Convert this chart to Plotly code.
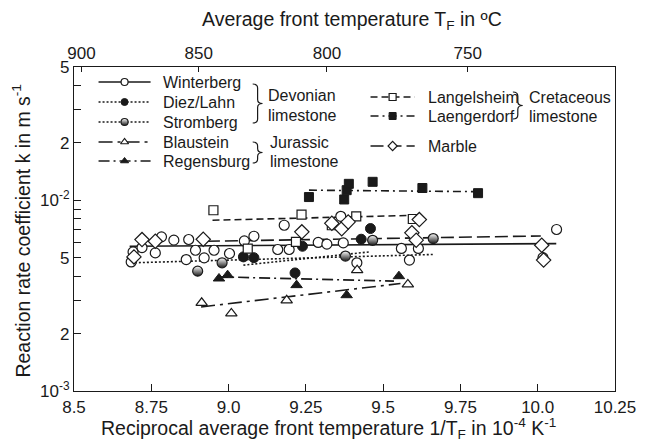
import plotly.graph_objects as go

# ---------------- data (x = 1/T_F in 1e-4 K^-1, k in m/s) ----------------
winterberg_x = [8.685, 8.691, 8.720, 8.763, 8.783, 8.823, 8.871, 8.863, 8.893, 8.921, 8.953, 9.003, 9.051,
                9.082, 9.159, 9.180, 9.196, 9.290, 9.318, 9.363, 9.371, 9.415, 9.559, 9.585, 9.614, 10.017, 10.061]
winterberg_k = [0.00475, 0.00536, 0.00565, 0.00530, 0.00643, 0.00618, 0.00623, 0.00489, 0.00547, 0.00499,
                0.00547, 0.00526, 0.00612, 0.00648, 0.00552, 0.00740, 0.00552, 0.00601, 0.00589, 0.00824,
                0.00598, 0.00470, 0.00559, 0.00486, 0.00559, 0.00500, 0.00703]
diez_x = [9.048, 9.082, 9.215, 9.239, 9.429, 9.459]
diez_k = [0.00505, 0.00500, 0.00416, 0.00574, 0.00625, 0.00711]
strom_x = [8.900, 8.979, 9.378, 9.466, 9.662]
strom_k = [0.00425, 0.00470, 0.00510, 0.00617, 0.00630]
blau_x = [8.913, 9.009, 9.188, 9.416, 9.580]
blau_k = [0.00290, 0.00255, 0.00299, 0.00430, 0.00362]
regen_x = [8.969, 8.997, 9.220, 9.382, 9.551]
regen_k = [0.00389, 0.00405, 0.00359, 0.00318, 0.00400]
lang_x = [8.951, 9.062, 9.218, 9.236, 9.334, 9.413, 9.596]
lang_k = [0.00887, 0.00558, 0.00605, 0.00841, 0.00740, 0.00824, 0.00798]
laeng_x = [9.260, 9.374, 9.382, 9.389, 9.466, 9.627, 9.807]
laeng_k = [0.0104, 0.0101, 0.0113, 0.0122, 0.0125, 0.0116, 0.0109]
marble_x = [8.694, 8.720, 8.763, 8.918, 9.237, 9.334, 9.366, 9.387, 9.593, 9.607, 9.617, 10.013, 10.019]
marble_k = [0.00505, 0.00622, 0.00610, 0.00625, 0.00683, 0.00757, 0.00710, 0.00770, 0.00675, 0.00618,
            0.00792, 0.00581, 0.00486]

# fitted Arrhenius lines (end points)
fit_winter_x, fit_winter_k = [8.68, 10.06], [0.00574, 0.00593]
fit_diez_x, fit_diez_k = [9.048, 9.459], [0.00457, 0.00537]
fit_strom_x, fit_strom_k = [8.684, 9.662], [0.00470, 0.00520]
fit_blau_x, fit_blau_k = [8.911, 9.556], [0.00276, 0.00366]
fit_regen_x, fit_regen_k = [8.963, 9.535], [0.00397, 0.00377]
fit_lang_x, fit_lang_k = [8.948, 9.603], [0.00786, 0.00834]
fit_laeng_x, fit_laeng_k = [9.26, 9.80], [0.0113, 0.0111]
fit_marble_x, fit_marble_k = [8.93, 10.01], [0.0061, 0.0065]

# axis ticks
x_ticks = [8.5, 8.75, 9.0, 9.25, 9.5, 9.75, 10.0, 10.25]
x_ticktext = ["8.5", "8.75", "9.0", "9.25", "9.5", "9.75", "10.0", "10.25"]
top_temps_C = [900, 850, 800, 750]
y_ticks = [0.001, 0.002, 0.005, 0.01, 0.02, 0.05]
y_ticktext = ["10<sup>-3</sup>", "2", "5", "10<sup>-2</sup>", "2", "5"]
y_minor = [0.003, 0.004, 0.006, 0.007, 0.008, 0.009, 0.03, 0.04]

INK = "#1a1a1a"
FONT = "Liberation Sans, Arial, sans-serif"

# style for each series
series = [
    dict(name="Winterberg", x=winterberg_x, k=winterberg_k, fx=fit_winter_x, fk=fit_winter_k,
         sym="circle-open", fill=False, size=10, dash="solid"),
    dict(name="Diez/Lahn", x=diez_x, k=diez_k, fx=fit_diez_x, fk=fit_diez_k,
         sym="circle", fill=True, size=10, dash="2px,2px"),
    dict(name="Stromberg", x=strom_x, k=strom_k, fx=fit_strom_x, fk=fit_strom_k,
         sym="circle", fill="half", size=10, dash="2px,2px"),
    dict(name="Blaustein", x=blau_x, k=blau_k, fx=fit_blau_x, fk=fit_blau_k,
         sym="triangle-up", fill=False, size=10, dash="14px,5px,3px,5px"),
    dict(name="Regensburg", x=regen_x, k=regen_k, fx=fit_regen_x, fk=fit_regen_k,
         sym="triangle-up", fill=True, size=10, dash="11px,4px,2px,4px"),
    dict(name="Langelsheim", x=lang_x, k=lang_k, fx=fit_lang_x, fk=fit_lang_k,
         sym="square", fill=False, size=9, dash="7px,4px"),
    dict(name="Laengerdorf", x=laeng_x, k=laeng_k, fx=fit_laeng_x, fk=fit_laeng_k,
         sym="square", fill=True, size=9, dash="8px,4px,2px,4px"),
    dict(name="Marble", x=marble_x, k=marble_k, fx=fit_marble_x, fk=fit_marble_k,
         sym="diamond", fill=False, size=11, dash="13px,5px"),
]


def marker_style(s, size):
    base = s["sym"].replace("-open", "")
    if s["fill"] is True:
        return dict(symbol=base, size=size, color=INK, line=dict(color=INK, width=1))
    if s["fill"] == "half":
        return dict(symbol=base, size=size, color="white",
                    gradient=dict(type="vertical", color=INK), line=dict(color=INK, width=1.2))
    return dict(symbol=base, size=size, color="white", line=dict(color=INK, width=1.2))


fig = go.Figure()

# fit lines first
for s in series:
    fig.add_trace(go.Scatter(x=s["fx"], y=s["fk"], mode="lines",
                             line=dict(color=INK, width=1.6, dash=s["dash"]),
                             showlegend=False, hoverinfo="skip"))
# data markers
for s in series:
    fig.add_trace(go.Scatter(x=s["x"], y=s["k"], mode="markers", name=s["name"],
                             marker=marker_style(s, s["size"]), showlegend=False))

# invisible trace to activate the top axis
fig.add_trace(go.Scatter(x=[x_ticks[0]], y=[y_ticks[2]], xaxis="x2", mode="markers",
                         marker=dict(opacity=0), showlegend=False, hoverinfo="skip"))

# ---------------- hand-made legend on a pixel-unit overlay axis ----------------
L, R, T, B = 74, 625, 67, 391
legend_rows = [
    ("Winterberg", 99, 152, 82),
    ("Diez/Lahn", 99, 152, 102),
    ("Stromberg", 99, 152, 122),
    ("Blaustein", 99, 152, 142),
    ("Regensburg", 99, 152, 161),
    ("Langelsheim", 376, 421, 97),
    ("Laengerdorf", 376, 421, 116),
    ("Marble", 376, 421, 146),
]
annotations = []
shapes = []
by_name = {s["name"]: s for s in series}
for name, x0, x1, yy in legend_rows:
    s = by_name[name]
    fig.add_trace(go.Scatter(x=[x0, x1], y=[yy, yy], xaxis="x3", yaxis="y3", mode="lines",
                             line=dict(color=INK, width=1.5, dash=s["dash"]),
                             showlegend=False, hoverinfo="skip"))
    fig.add_trace(go.Scatter(x=[(x0 + x1) / 2], y=[yy], xaxis="x3", yaxis="y3", mode="markers",
                             marker=marker_style(s, 7), showlegend=False, hoverinfo="skip"))
    tx = x1 + 11 if name != "Marble" else x1 + 12
    annotations.append(dict(x=tx, y=yy, xref="x3", yref="y3", text=name, showarrow=False,
                            xanchor="left", yanchor="middle", font=dict(size=16, color=INK, family=FONT)))


def brace(x0, y0, y1, w):
    ym = (y0 + y1) / 2
    r = min(4, (y1 - y0) / 4)
    xm = x0 + w * 0.5
    xt = x0 + w
    return (f"M {x0},{y0} Q {xm},{y0} {xm},{y0 + r} L {xm},{ym - r} Q {xm},{ym} {xt},{ym} "
            f"Q {xm},{ym} {xm},{ym + r} L {xm},{y1 - r} Q {xm},{y1} {x0},{y1}")


for (x0, y0, y1) in [(256, 84, 123), (256, 142, 163), (521, 92, 119)]:
    shapes.append(dict(type="path", path=brace(x0, y0, y1, 10), xref="x3", yref="y3",
                       line=dict(color=INK, width=1.2)))

group_labels = [("Devonian", 270, 95), ("limestone", 270, 115),
                ("Jurassic", 272, 142), ("limestone", 272, 161),
                ("Cretaceous", 535, 97), ("limestone", 535, 116)]
for txt, x, y in group_labels:
    annotations.append(dict(x=x, y=y, xref="x3", yref="y3", text=txt, showarrow=False,
                            xanchor="left", yanchor="middle", font=dict(size=16, color=INK, family=FONT)))

# axis titles as annotations (paper coords)
TITLE = dict(size=19.5, color=INK, family=FONT)
annotations.append(dict(x=0.514, y=1.0, xref="paper", yref="paper", yshift=47,
                        text="Average front temperature T<sub>F</sub> in ºC",
                        showarrow=False, xanchor="center", yanchor="middle", font=TITLE))
annotations.append(dict(x=0.47, y=0.0, xref="paper", yref="paper", yshift=-37,
                        text="Reciprocal average front temperature 1/T<sub>F</sub> in 10<sup>-4</sup> K<sup>-1</sup>",
                        showarrow=False, xanchor="center", yanchor="middle", font=TITLE))
annotations.append(dict(x=0.0, y=0.495, xref="paper", yref="paper", xshift=-53,
                        text="Reaction rate coefficient k in m s<sup>-1</sup>", textangle=-90,
                        showarrow=False, xanchor="center", yanchor="middle", font=TITLE))

top_vals = [1e4 / (t + 273.15) for t in top_temps_C]

fig.update_layout(
    width=648, height=443,
    margin=dict(l=L, r=648 - R, t=T, b=443 - B),
    paper_bgcolor="white", plot_bgcolor="white",
    font=dict(family=FONT, size=16, color=INK),
    showlegend=False,
    xaxis=dict(range=[8.5, 10.25], tickvals=x_ticks, ticktext=x_ticktext, ticks="inside", ticklen=7,
               tickcolor=INK, showline=True, linecolor=INK, linewidth=1.2, mirror=False,
               showgrid=False, zeroline=False, tickfont=dict(size=17, color=INK), ticklabelstandoff=0),
    xaxis2=dict(range=[8.5, 10.25], overlaying="x", side="top", anchor="y", tickvals=top_vals,
                ticktext=[str(t) for t in top_temps_C], ticks="inside", ticklen=5, tickcolor=INK,
                showline=True, linecolor=INK, linewidth=1.2, showgrid=False, zeroline=False,
                tickfont=dict(size=17, color=INK), ticklabelstandoff=0),
    yaxis=dict(type="log", range=[-3, -1.30103], tickvals=y_ticks, ticktext=y_ticktext, ticks="inside",
               ticklen=7, tickcolor=INK, showline=True, linecolor=INK, linewidth=1.2, mirror=True,
               showgrid=False, zeroline=False, tickfont=dict(size=17, color=INK),
               minor=dict(tickvals=y_minor, ticks="inside", ticklen=7, tickcolor=INK, showgrid=False)),
    xaxis3=dict(range=[L, R], overlaying="x", anchor="y3", visible=False, fixedrange=True),
    yaxis3=dict(range=[B, T], overlaying="y", anchor="x3", visible=False, fixedrange=True),
    annotations=annotations,
    shapes=shapes,
)

fig.write_html("out.html")
